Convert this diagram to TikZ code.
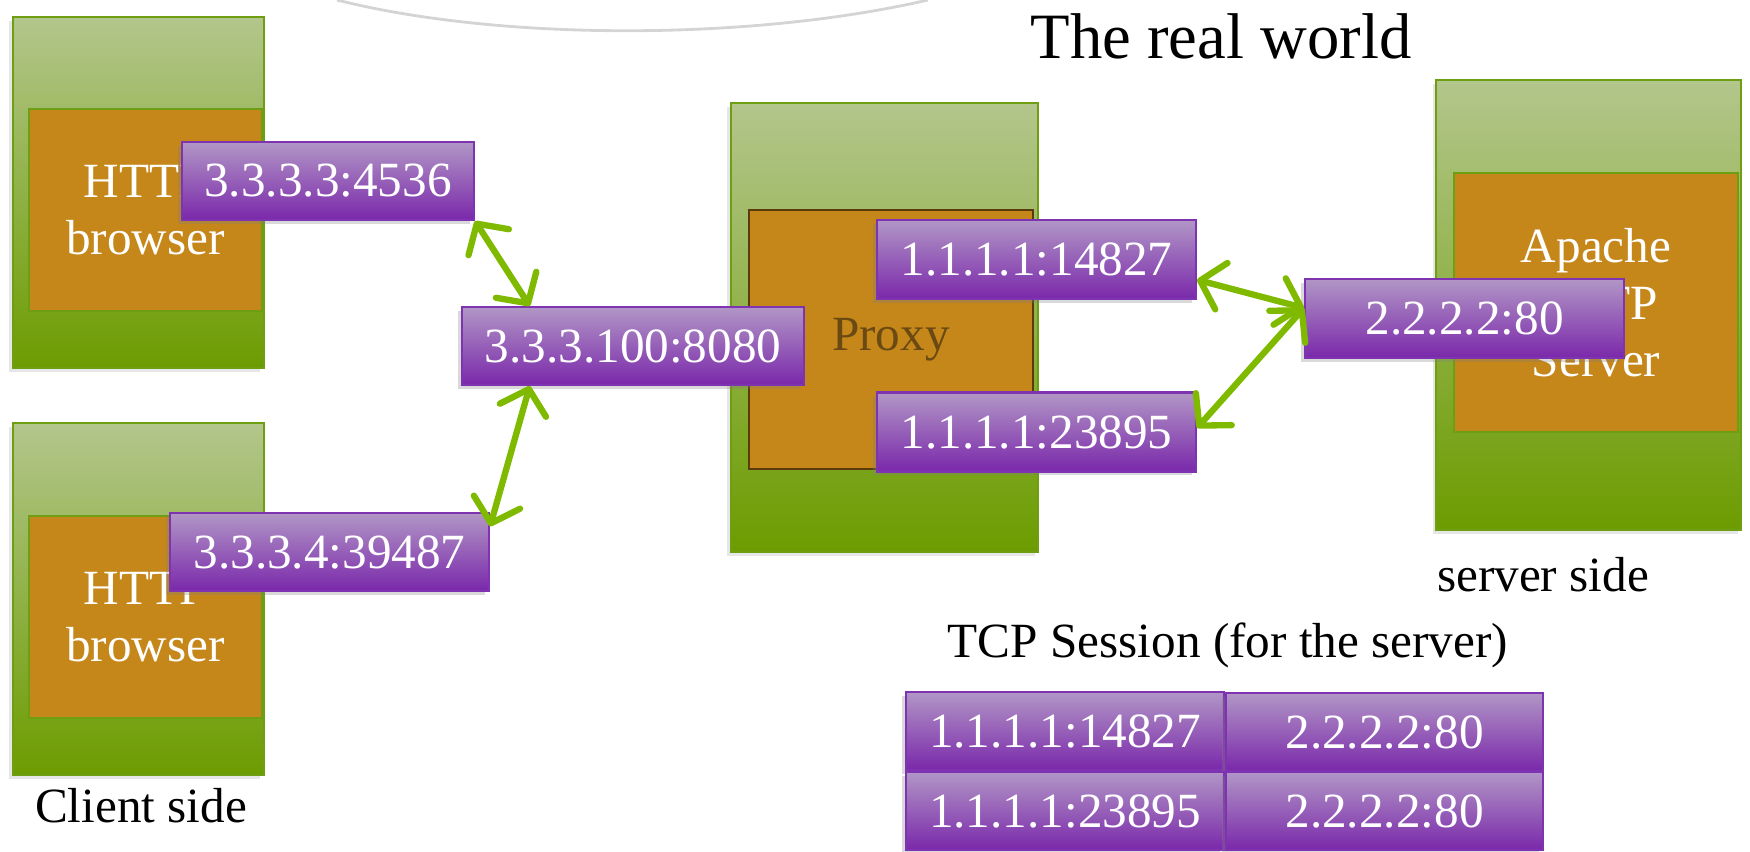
\documentclass[tikz,border=0pt]{standalone}
\usepackage{fontspec}
\setmainfont{Liberation Serif}
\usepackage{tikz}
\usetikzlibrary{calc,arrows.meta,shadows}

\definecolor{hosttop}{HTML}{B3C68C}
\definecolor{hostbottom}{HTML}{6C9C00}
\definecolor{hostedge}{HTML}{6E9E12}
\definecolor{appfill}{HTML}{C6871A}
\definecolor{proxyedge}{HTML}{5B3B0C}
\definecolor{proxytext}{HTML}{6A4A12}
\definecolor{addrtop}{HTML}{B196C6}
\definecolor{addrbottom}{HTML}{7A28AA}
\definecolor{addredge}{HTML}{7E33B0}
\definecolor{linkgreen}{HTML}{7FBA00}
\definecolor{arcgray}{HTML}{D4D4D4}

\begin{document}
\begin{tikzpicture}[
        host/.style={draw=hostedge, line width=0.6pt, top color=hosttop, bottom color=hostbottom, inner sep=0pt,
            drop shadow={shadow xshift=-1pt, shadow yshift=-1pt, opacity=0.2}},
        app/.style={draw=hostedge, line width=0.6pt, fill=appfill, text=white, align=center, inner sep=0pt,
            font=\fontsize{14}{16.2}\selectfont},
        addr/.style={draw=addredge, line width=0.6pt, top color=addrtop, bottom color=addrbottom, text=white,
            minimum height=0.78cm, inner sep=0pt, font=\fontsize{14}{16}\selectfont,
            drop shadow={shadow xshift=-1.2pt, shadow yshift=-1pt, opacity=0.3}},
        link/.style={draw=linkgreen, line width=\linkthick, line cap=round,
            {Straight Barb[length=2.2mm,width=4.8mm,round]}-{Straight Barb[length=2.2mm,width=4.8mm,round]}},
        sidetext/.style={font=\fontsize{14}{16}\selectfont}
    ]

        \def\linkthick{1.8pt}

        \useasboundingbox (0, 0) rectangle (17.5, 8.51);

        % arc at the top
        \draw[arcgray, line width=0.8pt] (3.37, 8.51) .. controls (5.0, 8.10) and (7.5, 8.10) .. (9.28, 8.51);

        \node[font=\fontsize{18.4}{21}\selectfont] (title) at (12.21, 8.15) {The real world};

        % client side
        \node[host, minimum width=2.51cm, minimum height=3.51cm] (client1) at (1.385, 6.585) {};
        \node[app, minimum width=2.33cm, minimum height=2.02cm] (browser1) at (1.455, 6.41) {HTTP\\browser};
        \node[addr, minimum width=2.92cm] (c1) at (3.28, 6.70) {3.3.3.3:4536};

        \node[host, minimum width=2.51cm, minimum height=3.52cm] (client2) at (1.385, 2.52) {};
        \node[app, minimum width=2.33cm, minimum height=2.02cm] (browser2) at (1.455, 2.34) {HTTP\\browser};
        \node[addr, minimum width=3.19cm] (c2) at (3.295, 2.99) {3.3.3.4:39487};

        \node[sidetext] (clientside) at (1.41, 0.45) {Client side};

        % proxy
        \node[host, minimum width=3.07cm, minimum height=4.49cm] (proxyhost) at (8.845, 5.235) {};
        \node[app, draw=proxyedge, text=proxytext, minimum width=2.84cm, minimum height=2.59cm] (proxy) at (8.91, 5.115) {Proxy};
        \node[addr, minimum width=3.42cm] (px) at (6.33, 5.05) {3.3.3.100:8080};
        \node[addr, minimum width=3.19cm, minimum height=0.79cm] (p1) at (10.365, 5.915) {1.1.1.1:14827};
        \node[addr, minimum width=3.19cm, minimum height=0.79cm] (p2) at (10.365, 4.19) {1.1.1.1:23895};

        % server side
        \node[host, minimum width=3.05cm, minimum height=4.50cm] (serverhost) at (15.885, 5.46) {};
        \node[app, minimum width=2.84cm, minimum height=2.59cm] (apache) at (15.96, 5.485) {Apache\\HTTP\\Server};
        \node[addr, minimum width=3.19cm, minimum height=0.79cm] (s) at (14.645, 5.325) {2.2.2.2:80};

        \node[sidetext] (serverside) at (15.43, 2.76) {server side};

        % session table
        \node[sidetext] (session) at (12.28, 2.06) {TCP Session (for the server)};
        \node[addr, minimum width=3.18cm] (t11) at (10.65, 1.20) {1.1.1.1:14827};
        \node[addr, minimum width=3.17cm] (t12) at (13.845, 1.19) {2.2.2.2:80};
        \node[addr, minimum width=3.18cm] (t21) at (10.65, 0.40) {1.1.1.1:23895};
        \node[addr, minimum width=3.17cm] (t22) at (13.845, 0.40) {2.2.2.2:80};

        % green arrows
        \coordinate (sin) at ($(s.north west)!0.37!(s.south west)$);

        \draw[link] (c1.south east) -- ($(px.north west)!0.2!(px.north east)$);
        \draw[link] ($(c2.north east)!0.18!(c2.south east)$) -- ($(px.south west)!0.2!(px.south east)$);
        \draw[link] ($(p1.north east)!0.75!(p1.south east)$) -- (sin);
        \draw[link] ($(p2.north east)!0.45!(p2.south east)$) -- (sin);

    \end{tikzpicture}
\end{document}
